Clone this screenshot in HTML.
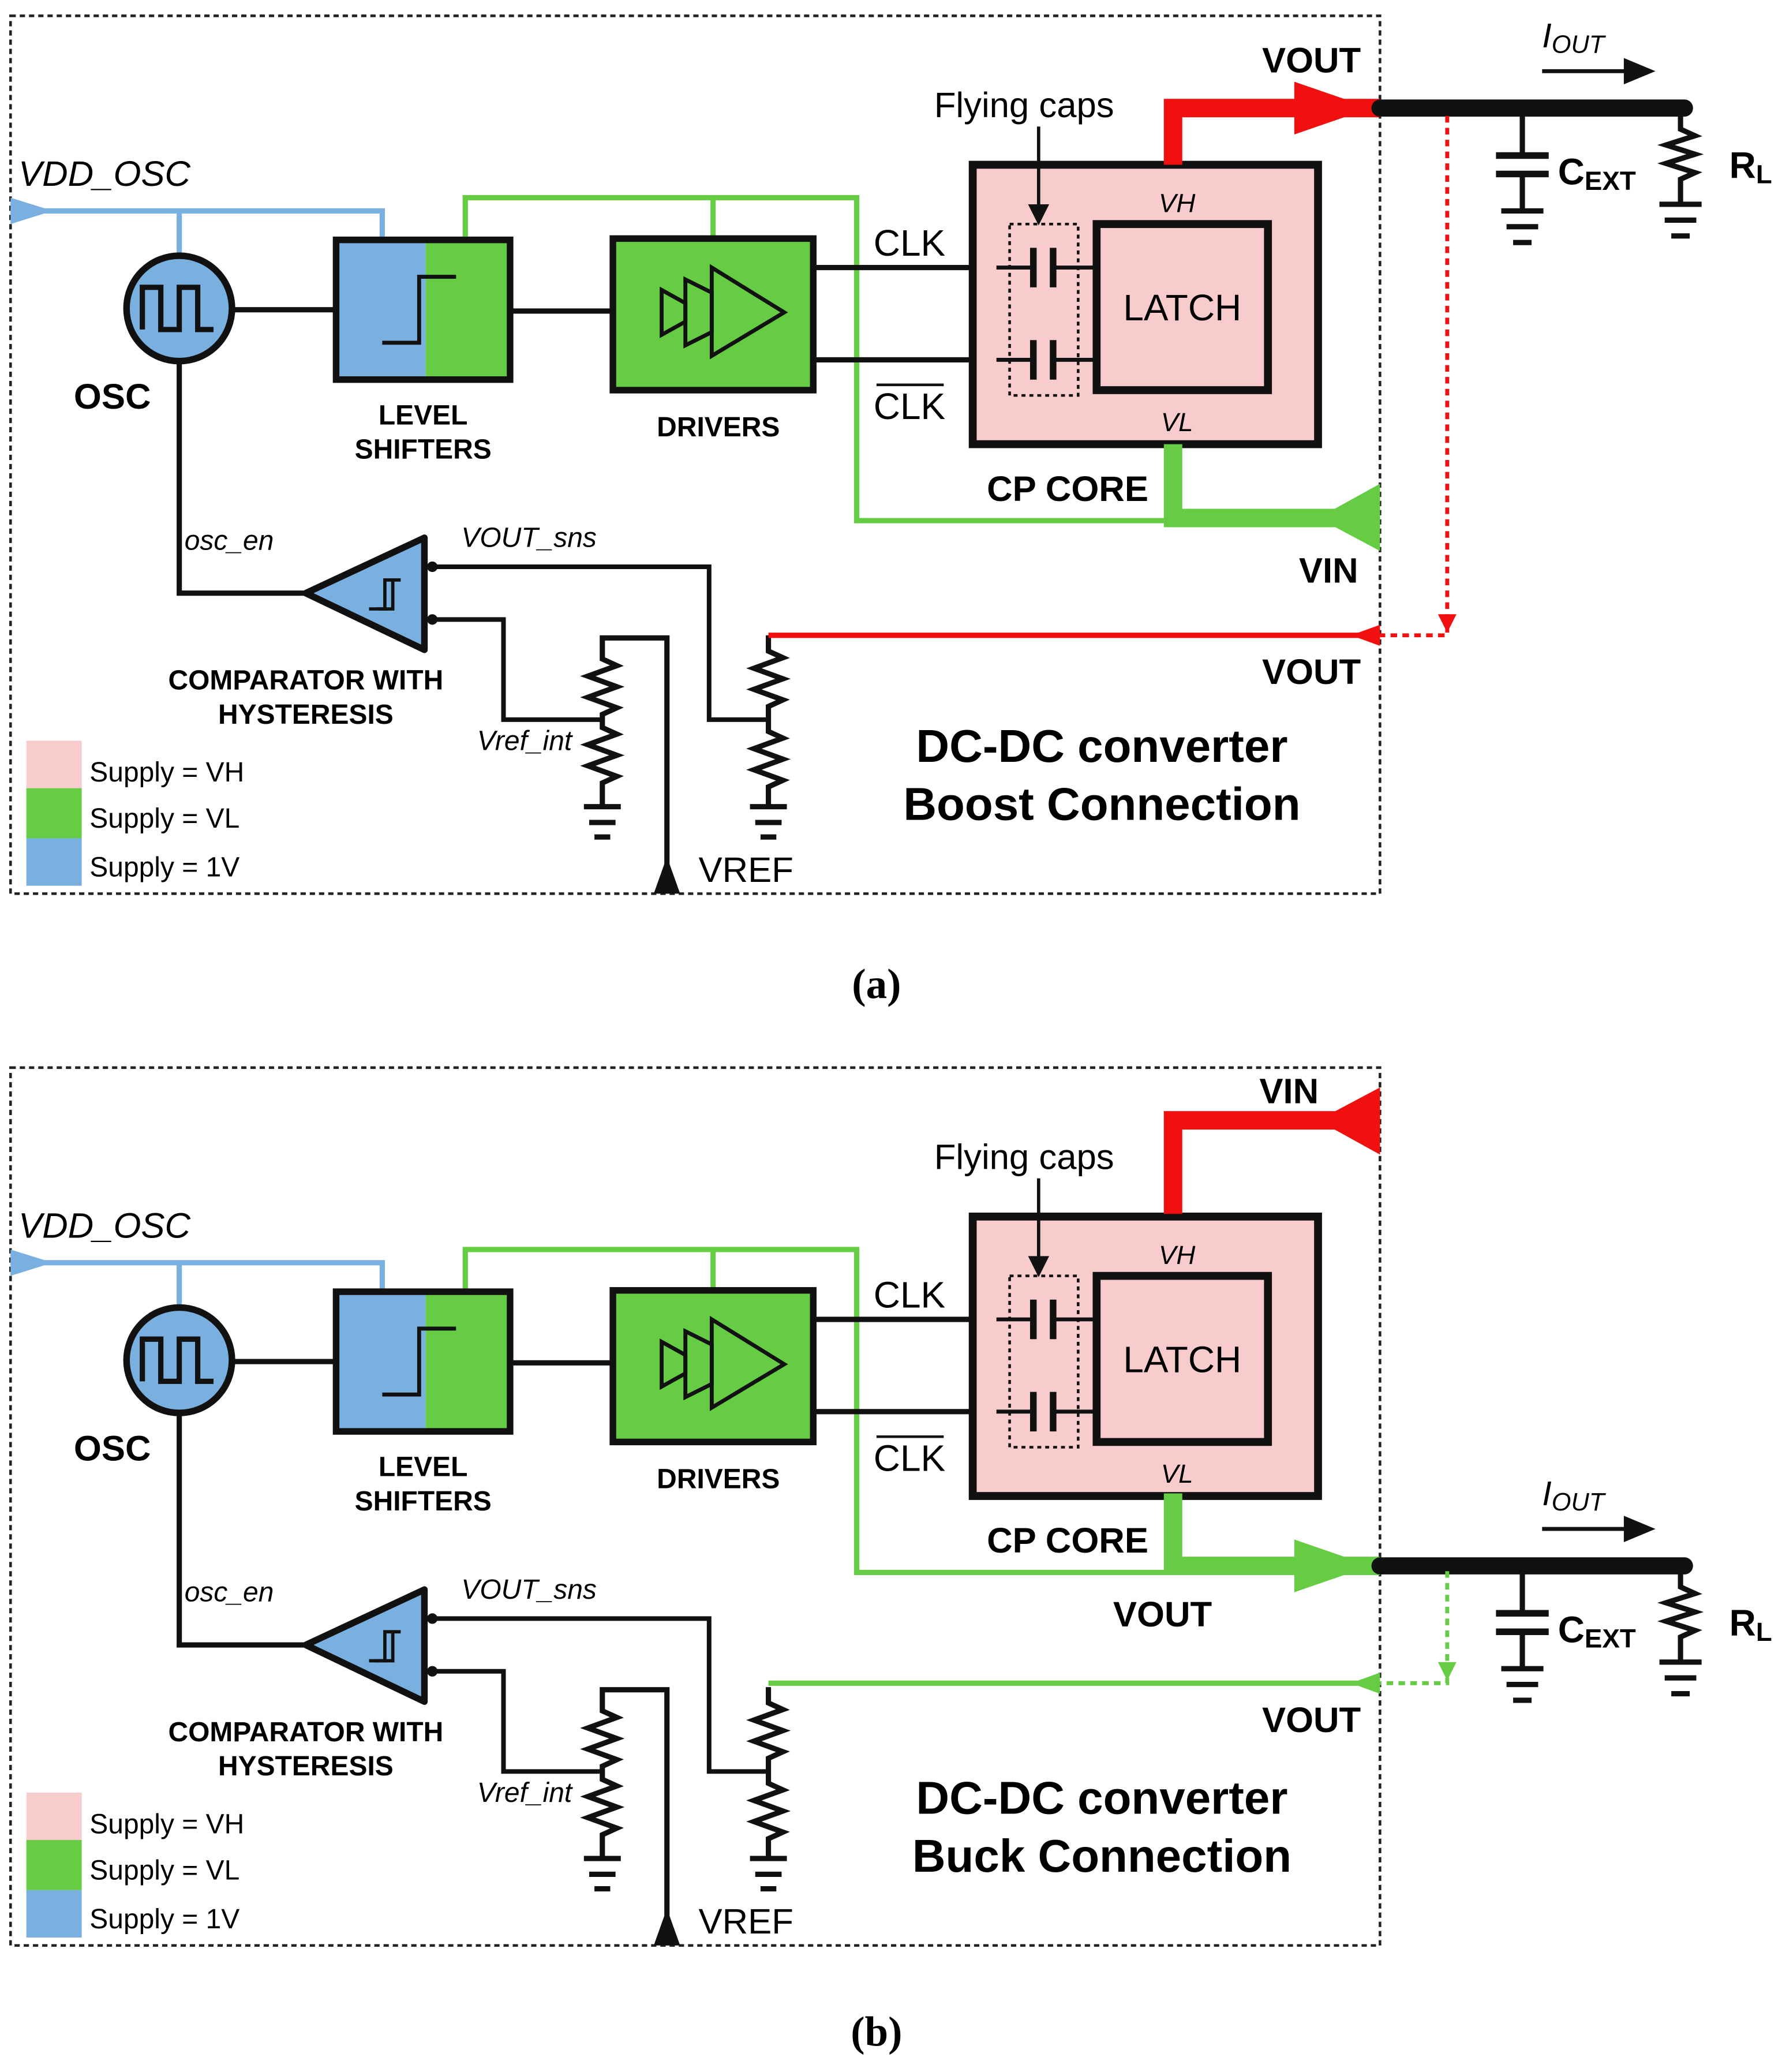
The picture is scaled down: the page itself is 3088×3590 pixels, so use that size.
<!DOCTYPE html>
<html><head><meta charset="utf-8"><style>
html,body{margin:0;padding:0;background:#fff}
svg{display:block}
text{font-family:"Liberation Sans",Arial,sans-serif}
.b{font-weight:bold}
.i{font-style:italic}
</style></head><body>
<svg width="3088" height="3590" viewBox="0 0 1352 1572" preserveAspectRatio="none" xmlns="http://www.w3.org/2000/svg">
<defs>
<g id="common">
  <rect x="8" y="12" width="1039" height="666" fill="none" stroke="#222" stroke-width="2" stroke-dasharray="4,3"/>
  <text x="14" y="141" font-size="27" class="i">VDD_OSC</text>
  <polyline points="8,160 290,160 290,182" fill="none" stroke="#7ab0e0" stroke-width="4"/>
  <polygon points="8,150 40,160 8,170" fill="#7ab0e0"/>
  <line x1="136" y1="160" x2="136" y2="196" stroke="#7ab0e0" stroke-width="4"/>
  <polyline points="353,182 353,150 650,150 650,395 890,395" fill="none" stroke="#66cc44" stroke-width="4"/>
  <line x1="541" y1="150" x2="541" y2="181" stroke="#66cc44" stroke-width="4"/>
  <circle cx="136" cy="234" r="40" fill="#7ab0e0" stroke="#111" stroke-width="5"/>
  <polyline points="108,250 108,218 122,218 122,250 136,250 136,218 150,218 150,250 162,250" fill="none" stroke="#111" stroke-width="4"/>
  <text x="56" y="310" font-size="27" class="b">OSC</text>
  <line x1="176" y1="235" x2="255" y2="235" stroke="#111" stroke-width="4"/>
  <rect x="255" y="182" width="68" height="106" fill="#7ab0e0"/>
  <rect x="323" y="182" width="64" height="106" fill="#66cc44"/>
  <rect x="255" y="182" width="132" height="106" fill="none" stroke="#111" stroke-width="5"/>
  <polyline points="290,260 318,260 318,210 346,210" fill="none" stroke="#111" stroke-width="3"/>
  <text x="321" y="322" font-size="21" class="b" text-anchor="middle">LEVEL</text>
  <text x="321" y="348" font-size="21" class="b" text-anchor="middle">SHIFTERS</text>
  <line x1="387" y1="236" x2="465" y2="236" stroke="#111" stroke-width="4"/>
  <rect x="465" y="181" width="152" height="115" fill="#66cc44" stroke="#111" stroke-width="5"/>
  <polygon points="502,220 520,230 520,244 502,254" fill="none" stroke="#111" stroke-width="3"/>
  <polygon points="520,212 540,222 540,252 520,262" fill="none" stroke="#111" stroke-width="3"/>
  <polygon points="540,203 595,237 540,270" fill="none" stroke="#111" stroke-width="3"/>
  <text x="545" y="331" font-size="21" class="b" text-anchor="middle">DRIVERS</text>
  <line x1="617" y1="203" x2="738" y2="203" stroke="#111" stroke-width="4"/>
  <line x1="617" y1="273" x2="738" y2="273" stroke="#111" stroke-width="4"/>
  <text x="690" y="194" font-size="28" text-anchor="middle">CLK</text>
  <text x="690" y="318" font-size="28" text-anchor="middle">CLK</text>
  <line x1="665" y1="292" x2="716" y2="292" stroke="#111" stroke-width="2"/>
  <rect x="738" y="125" width="262" height="212" fill="#f8cccc" stroke="#111" stroke-width="6"/>
  <rect x="832" y="170" width="130" height="126" fill="#f8cccc" stroke="#111" stroke-width="6"/>
  <text x="897" y="243" font-size="28" text-anchor="middle">LATCH</text>
  <text x="893" y="161" font-size="20" class="i" text-anchor="middle">VH</text>
  <text x="893" y="327" font-size="20" class="i" text-anchor="middle">VL</text>
  <rect x="766" y="170" width="52" height="130" fill="none" stroke="#111" stroke-width="2" stroke-dasharray="3,3"/>
  <g stroke="#111" stroke-width="3" fill="none">
    <line x1="756" y1="203" x2="784" y2="203"/><line x1="784" y1="188" x2="784" y2="218" stroke-width="5"/>
    <line x1="799" y1="188" x2="799" y2="218" stroke-width="5"/><line x1="799" y1="203" x2="832" y2="203"/>
    <line x1="756" y1="273" x2="784" y2="273"/><line x1="784" y1="258" x2="784" y2="288" stroke-width="5"/>
    <line x1="799" y1="258" x2="799" y2="288" stroke-width="5"/><line x1="799" y1="273" x2="832" y2="273"/>
    <line x1="788" y1="96" x2="788" y2="158" stroke-width="2.5"/>
  </g>
  <polygon points="780,155 796,155 788,171" fill="#111"/>
  <text x="777" y="89" font-size="27" text-anchor="middle">Flying caps</text>
  <text x="810" y="380" font-size="27" class="b" text-anchor="middle">CP CORE</text>
  <polyline points="136,274 136,450 232,450" fill="none" stroke="#111" stroke-width="4"/>
  <text x="140" y="417" font-size="21" class="i">osc_en</text>
  <polygon points="322,408 322,493 232,450" fill="#7ab0e0" stroke="#111" stroke-width="5" stroke-linejoin="round"/>
  <polyline points="280,462 292,462 292,440 304,440" fill="none" stroke="#111" stroke-width="2.5"/>
  <polyline points="286,462 298,462 298,440" fill="none" stroke="#111" stroke-width="2.5"/>
  <circle cx="328" cy="430" r="4" fill="#111"/><circle cx="328" cy="470" r="4" fill="#111"/>
  <polyline points="328,430 538,430 538,546 583,546" fill="none" stroke="#111" stroke-width="3.5"/>
  <polyline points="328,470 382,470 382,546 457,546" fill="none" stroke="#111" stroke-width="3.5"/>
  <text x="350" y="415" font-size="21" class="i">VOUT_sns</text>
  <text x="362" y="569" font-size="21" class="i">Vref_int</text>
  <text x="232" y="523" font-size="21" class="b" text-anchor="middle">COMPARATOR WITH</text>
  <text x="232" y="549" font-size="21" class="b" text-anchor="middle">HYSTERESIS</text>
  <g fill="none" stroke="#111" stroke-width="4">
    <polyline points="506,678 506,484 457,484 457,500 468,505 446,513 468,521 446,529 468,537 457,542 457,552 468,557 446,565 468,573 446,581 468,589 457,594 457,612"/>
    <line x1="443" y1="612" x2="471" y2="612"/><line x1="447" y1="624" x2="467" y2="624"/><line x1="451" y1="635" x2="463" y2="635"/>
    <polyline points="583,482 583,494 594,499 572,507 594,515 572,523 594,531 583,536 583,555 594,560 572,568 594,576 572,584 594,592 583,597 583,612"/>
    <line x1="569" y1="612" x2="597" y2="612"/><line x1="573" y1="624" x2="593" y2="624"/><line x1="577" y1="635" x2="589" y2="635"/>
  </g>
  <polygon points="496,678 506,650 516,678" fill="#111"/>
  <text x="530" y="669" font-size="27">VREF</text>
  <rect x="20" y="562" width="42" height="36" fill="#f8cccc"/>
  <rect x="20" y="598" width="42" height="38" fill="#66cc44"/>
  <rect x="20" y="636" width="42" height="36" fill="#7ab0e0"/>
  <text x="68" y="593" font-size="21">Supply = VH</text>
  <text x="68" y="628" font-size="21">Supply = VL</text>
  <text x="68" y="665" font-size="21">Supply = 1V</text>
  <text x="836" y="578" font-size="35" class="b" text-anchor="middle">DC-DC converter</text>
</g>
<g id="load">
  <line x1="1047" y1="82" x2="1278" y2="82" stroke="#111" stroke-width="13" stroke-linecap="round"/>
  <g fill="none" stroke="#111" stroke-width="4">
    <polyline points="1155,82 1155,118"/><line x1="1135" y1="118" x2="1175" y2="118" stroke-width="5"/>
    <line x1="1135" y1="132" x2="1175" y2="132" stroke-width="5"/><polyline points="1155,132 1155,160"/>
    <line x1="1139" y1="160" x2="1171" y2="160"/><line x1="1143" y1="172" x2="1167" y2="172"/><line x1="1148" y1="184" x2="1162" y2="184"/>
    <polyline points="1275,82 1275,98 1286,103 1264,110 1286,117 1264,124 1286,131 1275,136 1275,155"/>
    <line x1="1259" y1="155" x2="1291" y2="155"/><line x1="1263" y1="167" x2="1287" y2="167"/><line x1="1268" y1="179" x2="1282" y2="179"/>
  </g>
  <text x="1182" y="140" font-size="28" class="b">C<tspan font-size="20" dy="4">EXT</tspan></text>
  <text x="1312" y="135" font-size="28" class="b">R<tspan font-size="20" dy="4">L</tspan></text>
  <text x="1170" y="36" font-size="26" class="i">I<tspan font-size="19" dy="4">OUT</tspan></text>
  <line x1="1170" y1="54" x2="1235" y2="54" stroke="#111" stroke-width="3"/>
  <polygon points="1232,44 1256,54 1232,64" fill="#111"/>
</g>
</defs>

<use href="#common"/>
<text x="836" y="622" font-size="35" class="b" text-anchor="middle">Boost Connection</text>
<polyline points="890,125 890,82 1047,82" fill="none" stroke="#f01010" stroke-width="14"/>
<polygon points="982,62 1040,82 982,102" fill="#f01010"/>
<text x="995" y="55" font-size="27" class="b" text-anchor="middle">VOUT</text>
<use href="#load"/>
<polyline points="890,337 890,393 1047,393" fill="none" stroke="#66cc44" stroke-width="14"/>
<polygon points="1047,367 1000,393 1047,418" fill="#66cc44"/>
<text x="1008" y="442" font-size="27" class="b" text-anchor="middle">VIN</text>
<line x1="583" y1="482" x2="1040" y2="482" stroke="#f01010" stroke-width="4"/>
<polygon points="1047,474 1025,482 1047,490" fill="#f01010"/>
<polyline points="1098,88 1098,482 1047,482" fill="none" stroke="#f01010" stroke-width="3" stroke-dasharray="5,4"/>
<polygon points="1091,466 1098,480 1105,466" fill="#f01010"/>
<text x="995" y="519" font-size="27" class="b" text-anchor="middle">VOUT</text>
<text x="665" y="757" font-size="32" font-weight="bold" text-anchor="middle" style="font-family:'Liberation Serif',serif">(a)</text>

<g transform="translate(0,798)"><use href="#common"/></g>
<text x="836" y="1420" font-size="35" class="b" text-anchor="middle">Buck Connection</text>
<polyline points="890,921 890,850 1047,850" fill="none" stroke="#f01010" stroke-width="14"/>
<polygon points="1047,825 1000,850 1047,876" fill="#f01010"/>
<text x="978" y="837" font-size="27" class="b" text-anchor="middle">VIN</text>
<polyline points="890,1133 890,1188 1047,1188" fill="none" stroke="#66cc44" stroke-width="14"/>
<polygon points="982,1168 1040,1188 982,1208" fill="#66cc44"/>
<text x="882" y="1234" font-size="27" class="b" text-anchor="middle">VOUT</text>
<g transform="translate(0,1106)"><use href="#load"/></g>
<line x1="583" y1="1277" x2="1040" y2="1277" stroke="#66cc44" stroke-width="4"/>
<polygon points="1047,1269 1025,1277 1047,1285" fill="#66cc44"/>
<polyline points="1098,1192 1098,1277 1047,1277" fill="none" stroke="#66cc44" stroke-width="3" stroke-dasharray="5,4"/>
<polygon points="1091,1261 1098,1275 1105,1261" fill="#66cc44"/>
<text x="995" y="1314" font-size="27" class="b" text-anchor="middle">VOUT</text>
<text x="665" y="1552" font-size="32" font-weight="bold" text-anchor="middle" style="font-family:'Liberation Serif',serif">(b)</text>
</svg>
</body></html>
